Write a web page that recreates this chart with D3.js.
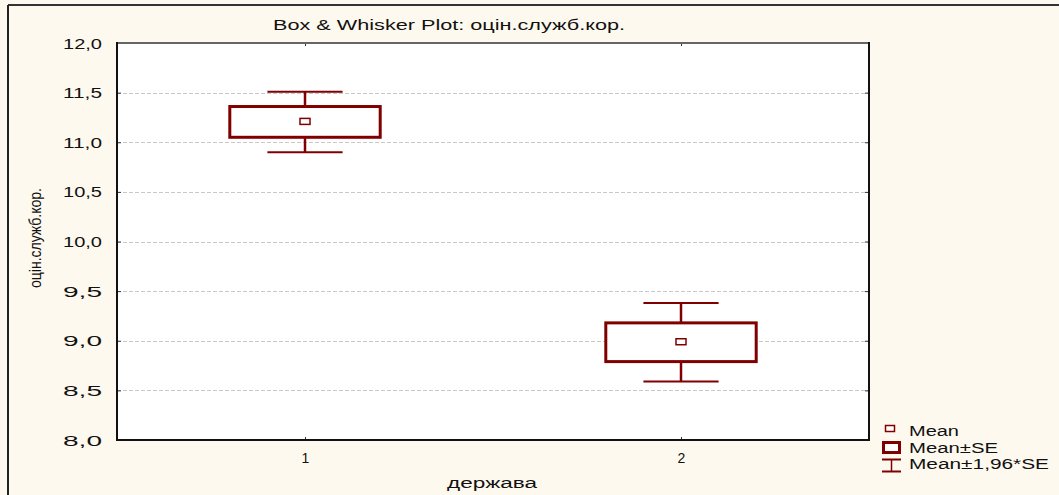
<!DOCTYPE html>
<html>
<head>
<meta charset="utf-8">
<script src="https://cdn.jsdelivr.net/npm/d3@7"></script>
<style>
  html, body { margin: 0; padding: 0; background: #fef9ee; }
  svg { display: block; }
  .t { font-family: "Liberation Sans", Arial, sans-serif; fill: #111; }
</style>
</head>
<body>
<svg id="chart" width="1059" height="495"></svg>
<script>
// ---- data ----
const categories = ["1", "2"];
const means  = [11.21, 8.99];
const seLow  = [11.05, 8.79];
const seHigh = [11.36, 9.18];
const ciLow  = [10.90, 8.59];
const ciHigh = [11.51, 9.38];
const yTicks = [8.0, 8.5, 9.0, 9.5, 10.0, 10.5, 11.0, 11.5, 12.0];
const legendLabels = ["Mean", "Mean±SE", "Mean±1,96*SE"];
const titleText = "Box & Whisker Plot: оцін.служб.кор.";
const xLabel = "держава";
const yLabel = "оцін.служб.кор.";

const W = 1059, H = 495;
const plot = { left: 117, right: 869, top: 43, bottom: 440 };
const red = "#800000";
const svg = d3.select("#chart");

// outer background & frame
svg.append("rect").attr("x", 0).attr("y", 0).attr("width", W).attr("height", H).attr("fill", "#fef9ee");
svg.append("line").attr("x1", 8).attr("x2", W).attr("y1", 5).attr("y2", 5).attr("stroke", "#333").attr("stroke-width", 2);
svg.append("line").attr("x1", 8).attr("x2", 8).attr("y1", 5).attr("y2", H).attr("stroke", "#222").attr("stroke-width", 2);

// scales
const x = d3.scalePoint().domain(categories).range([plot.left, plot.right]).padding(0.5);
const y = d3.scaleLinear().domain([8, 12]).range([plot.bottom, plot.top]);

// plot background
svg.append("rect").attr("x", plot.left).attr("y", plot.top)
  .attr("width", plot.right - plot.left).attr("height", plot.bottom - plot.top).attr("fill", "#fff");

// grid lines
svg.append("g").selectAll("line").data(yTicks.filter(v => v > 8 && v < 12)).join("line")
  .attr("x1", plot.left).attr("x2", plot.right)
  .attr("y1", d => Math.round(y(d)) + 0.5).attr("y2", d => Math.round(y(d)) + 0.5)
  .attr("stroke", "#c8c8c8").attr("stroke-width", 1).attr("stroke-dasharray", "4,2");

// left axis (inward ticks)
const fmt = d => d3.format(".1f")(d).replace(".", ",");
const yAxisL = svg.append("g").attr("transform", `translate(${plot.left},0)`)
  .call(d3.axisLeft(y).tickValues(yTicks).tickSize(-4).tickPadding(15).tickFormat(fmt));
yAxisL.select(".domain").remove();
yAxisL.attr("font-size", 14).attr("font-family", "'Liberation Sans', Arial, sans-serif");
yAxisL.selectAll("line").attr("stroke", "#333");
yAxisL.selectAll("text").attr("fill", "#111").attr("dy", "0.36em")
  .attr("textLength", 39).attr("lengthAdjust", "spacingAndGlyphs");

// right axis ticks inward
const yAxisR = svg.append("g").attr("transform", `translate(${plot.right},0)`)
  .call(d3.axisRight(y).tickValues(yTicks).tickSize(-4).tickFormat(""));
yAxisR.select(".domain").remove();
yAxisR.selectAll("line").attr("stroke", "#333");

// bottom axis
const xAxisB = svg.append("g").attr("transform", `translate(0,${plot.bottom})`)
  .call(d3.axisBottom(x).tickSize(-3).tickPadding(9));
xAxisB.select(".domain").remove();
xAxisB.attr("font-size", 14).attr("font-family", "'Liberation Sans', Arial, sans-serif");
xAxisB.selectAll("line").attr("stroke", "#333");
xAxisB.selectAll("text").attr("fill", "#111").attr("dy", "1em");

// top ticks
const xAxisT = svg.append("g").attr("transform", `translate(0,${plot.top})`)
  .call(d3.axisTop(x).tickSize(-3).tickFormat(""));
xAxisT.select(".domain").remove();
xAxisT.selectAll("line").attr("stroke", "#333");

// plot frame
svg.append("line").attr("x1", plot.left).attr("x2", plot.right).attr("y1", plot.top).attr("y2", plot.top)
  .attr("stroke", "#666").attr("stroke-width", 2);
svg.append("line").attr("x1", plot.left).attr("x2", plot.left).attr("y1", plot.top - 1).attr("y2", plot.bottom + 1)
  .attr("stroke", "#111").attr("stroke-width", 2);
svg.append("line").attr("x1", plot.right).attr("x2", plot.right).attr("y1", plot.top - 1).attr("y2", plot.bottom + 1)
  .attr("stroke", "#111").attr("stroke-width", 2);
svg.append("line").attr("x1", plot.left).attr("x2", plot.right + 1).attr("y1", plot.bottom).attr("y2", plot.bottom)
  .attr("stroke", "#111").attr("stroke-width", 2);

// boxes & whiskers
const step = x.step();
const boxW = step * 0.4;
const capW = step * 0.2;
const g = svg.append("g");
categories.forEach((c, i) => {
  const cx = x(c);
  g.append("line").attr("x1", cx).attr("x2", cx).attr("y1", y(ciHigh[i])).attr("y2", y(seHigh[i]))
    .attr("stroke", red).attr("stroke-width", 2.5);
  g.append("line").attr("x1", cx).attr("x2", cx).attr("y1", y(seLow[i])).attr("y2", y(ciLow[i]))
    .attr("stroke", red).attr("stroke-width", 2.5);
  g.append("line").attr("x1", cx - capW / 2).attr("x2", cx + capW / 2).attr("y1", y(ciHigh[i])).attr("y2", y(ciHigh[i]))
    .attr("stroke", red).attr("stroke-width", 2);
  g.append("line").attr("x1", cx - capW / 2).attr("x2", cx + capW / 2).attr("y1", y(ciLow[i])).attr("y2", y(ciLow[i]))
    .attr("stroke", red).attr("stroke-width", 2);
  g.append("rect").attr("x", cx - boxW / 2).attr("y", y(seHigh[i]))
    .attr("width", boxW).attr("height", y(seLow[i]) - y(seHigh[i]))
    .attr("fill", "#fff").attr("stroke", red).attr("stroke-width", 3);
  g.append("rect").attr("x", cx - 5).attr("y", y(means[i]) - 3)
    .attr("width", 10).attr("height", 6)
    .attr("fill", "#fff").attr("stroke", red).attr("stroke-width", 1.5);
});

// title
svg.append("text").attr("class", "t").attr("x", 273).attr("y", 30).attr("font-size", 14)
  .attr("textLength", 352).attr("lengthAdjust", "spacingAndGlyphs").text(titleText);

// x label
svg.append("text").attr("class", "t").attr("x", 447).attr("y", 488).attr("font-size", 14)
  .attr("textLength", 90).attr("lengthAdjust", "spacingAndGlyphs").text(xLabel);

// y label
svg.append("g").attr("transform", "translate(41,238) rotate(-90)")
  .append("text").attr("class", "t").attr("text-anchor", "middle")
  .attr("font-size", 17).attr("textLength", 100).attr("lengthAdjust", "spacingAndGlyphs").text(yLabel);

// legend
const lg = svg.append("g");
const rowY = [436, 452.5, 469];
const legLens = [50, 89, 140];
lg.append("rect").attr("x", 885.5).attr("y", 425.5).attr("width", 9).attr("height", 6)
  .attr("fill", "#fff").attr("stroke", red).attr("stroke-width", 1.5);
lg.append("rect").attr("x", 883.5).attr("y", 442.5).attr("width", 16).attr("height", 10)
  .attr("fill", "#fff").attr("stroke", red).attr("stroke-width", 3);
lg.append("line").attr("x1", 882).attr("x2", 901).attr("y1", 459.5).attr("y2", 459.5).attr("stroke", red).attr("stroke-width", 2);
lg.append("line").attr("x1", 882).attr("x2", 901).attr("y1", 471.5).attr("y2", 471.5).attr("stroke", red).attr("stroke-width", 2);
lg.append("line").attr("x1", 891.5).attr("x2", 891.5).attr("y1", 459.5).attr("y2", 471.5).attr("stroke", red).attr("stroke-width", 1.5);
lg.selectAll("text.leg").data(legendLabels).join("text").attr("class", "t leg")
  .attr("x", 909).attr("y", (d, i) => rowY[i]).attr("font-size", 14)
  .attr("textLength", (d, i) => legLens[i]).attr("lengthAdjust", "spacingAndGlyphs")
  .text(d => d);
</script>
</body>
</html>
